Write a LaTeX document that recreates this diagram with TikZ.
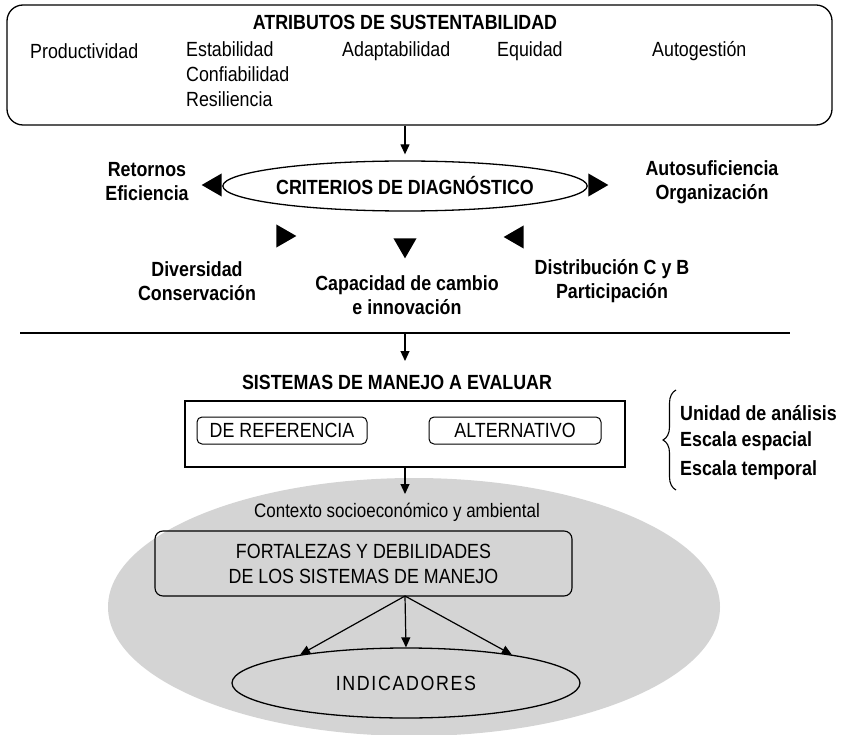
\documentclass[tikz,border=0pt]{standalone}
\usepackage{fontspec}
\setmainfont{Liberation Sans}[FakeStretch=0.87]
\usetikzlibrary{arrows.meta,shapes.geometric,decorations.pathreplacing}
\tikzstyle{txt}=[font=\fontsize{20.5}{25}\selectfont, align=center, inner sep=0pt]
\tikzstyle{btxt}=[font=\fontsize{20.5}{24}\selectfont\bfseries, align=center, inner sep=0pt]
\tikzstyle{tri}=[isosceles triangle, fill=black, draw=none, minimum height=20pt, minimum width=22pt, isosceles triangle apex angle=60, inner sep=0pt]
\tikzstyle{to}=[-{Triangle[length=10pt,width=9pt]}, line width=1.2pt]
\tikzstyle{frame}=[draw, line width=1.3pt]

\begin{document}
\begin{tikzpicture}[x=1pt,y=-1pt]
    \useasboundingbox (0,0) rectangle (843,735);
    % atributos
    \node[frame, rounded corners=16pt, minimum width=825pt, minimum height=120pt] (attr) at (419.5,65) {};
    \node[btxt] (atit) at (405,22) {ATRIBUTOS DE SUSTENTABILIDAD};
    \node[txt, anchor=west] (prod) at (30,51) {Productividad};
    \node[txt, anchor=north west, align=left] (esta) at (186,41) {Estabilidad\\Confiabilidad\\Resiliencia};
    \node[txt, anchor=west] (adap) at (342,51) {Adaptabilidad};
    \node[txt, anchor=west] (equi) at (497,51) {Equidad};
    \node[txt, anchor=west] (auto) at (652,51) {Autogestión};
    % criterios
    \node[frame, ellipse, minimum width=302pt, minimum height=50pt, btxt] (crit) at (405,186) {CRITERIOS DE DIAGNÓSTICO};
    \draw[to] (attr.south -| crit.north) -- ([yshift=6pt]crit.north);
    \node[tri, shape border rotate=180] (tl) at (215,185) {};
    \node[tri] (tr) at (595,185) {};
    \node[tri] (tbl) at (283,236) {};
    \node[tri, shape border rotate=270] (tbm) at (405,245) {};
    \node[tri, shape border rotate=180] (tbr) at (517,237) {};
    \node[btxt] (reto) at (147,182) {Retornos\\Eficiencia};
    \node[btxt] (autos) at (712,182) {Autosuficiencia\\Organización};
    \node[btxt] (dive) at (197,281) {Diversidad\\Conservación};
    \node[btxt] (capa) at (407,295) {Capacidad de cambio\\e innovación};
    \node[btxt] (dist) at (612,281) {Distribución C y B\\Participación};
    % separador
    \coordinate (sl) at (20,333);
    \coordinate (sr) at (790,333);
    \coordinate (sm) at (405,333);
    \draw[line width=1.8pt] (sl) -- (sr);
    % sistemas
    \node[btxt] (sist) at (397,382) {SISTEMAS DE MANEJO A EVALUAR};
    \draw[to] (sm) -- ++(0,28);
    \node[frame, minimum width=440pt, minimum height=66pt] (sysb) at (405,434) {};
    \node[draw, line width=1pt, rounded corners=5pt, minimum width=170pt, minimum height=27pt, txt] (refe) at (282,430.5) {DE REFERENCIA};
    \node[draw, line width=1pt, rounded corners=5pt, minimum width=172pt, minimum height=27pt, txt] (alte) at (515,430.5) {ALTERNATIVO};
    \draw[line width=1.1pt, decorate, decoration={brace, amplitude=13pt}] (676,490) -- (676,390);
    \node[btxt, anchor=west] (unid) at (680,413) {Unidad de análisis};
    \node[btxt, anchor=west] (esce) at (680,441) {Escala espacial};
    \node[btxt, anchor=west] (escl) at (680,470) {Escala temporal};
    % contexto
    \node[ellipse, fill=black!17, minimum width=612pt, minimum height=258pt] (ctx) at (414,607) {};
    \draw[to] (sysb.south) -- (405,494);
    \node[txt, font=\fontsize{19.5}{24}\selectfont] (ctxt) at (397,512) {Contexto socioeconómico y ambiental};
    \node[draw, line width=1.1pt, rounded corners=8pt, minimum width=417pt, minimum height=65pt, txt] (fort) at (363.5,563.5) {FORTALEZAS Y DEBILIDADES\\DE LOS SISTEMAS DE MANEJO};
    \node[frame, ellipse, minimum width=348pt, minimum height=70pt, font=\fontsize{20.5}{24}\selectfont\addfontfeature{LetterSpace=8}] (indi) at (406,683) {INDICADORES};
    \coordinate (fk) at (405,596);
    \draw[to] (fk) -- (indi.north);
    \draw[to] (fk) -- (indi.165);
    \draw[to] (fk) -- (indi.15);
\end{tikzpicture}
\end{document}
